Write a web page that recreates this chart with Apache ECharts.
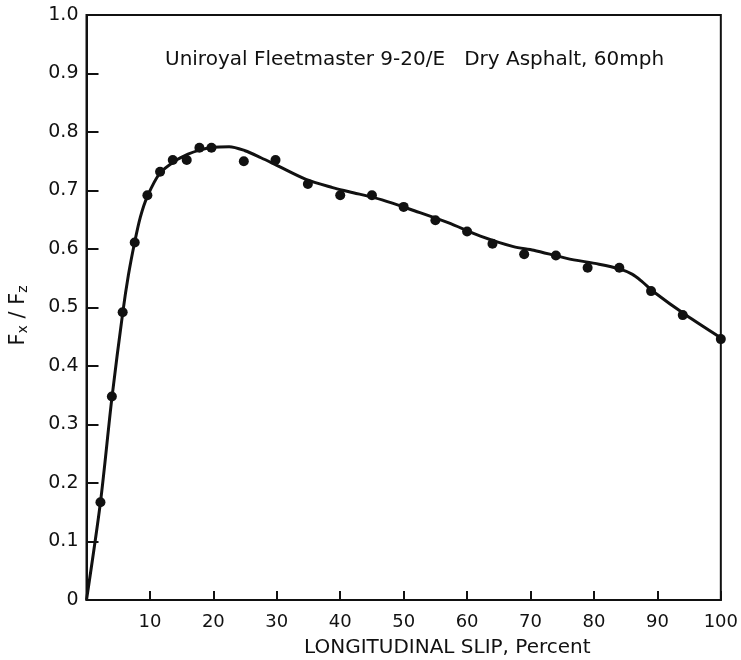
<!DOCTYPE html>
<html><head><meta charset="utf-8">
<script src="https://cdn.jsdelivr.net/npm/echarts@6/dist/echarts.min.js"></script>
<style>html,body{margin:0;padding:0;background:#fff}#c{width:741px;height:660px}</style>
</head><body><div id="c"></div>
<script>
// measured points
const slipPts = [2.2, 4.0, 5.7, 7.6, 9.6, 11.6, 13.6, 15.8, 17.8, 19.7, 24.8, 29.8, 34.9, 40, 45, 50, 55, 60, 64, 69, 74, 79, 84, 89, 94, 100];
const ratioPts = [0.167, 0.348, 0.492, 0.611, 0.692, 0.732, 0.752, 0.752, 0.773, 0.773, 0.750, 0.752, 0.711, 0.692, 0.692, 0.672, 0.649, 0.630, 0.609, 0.591, 0.589, 0.568, 0.568, 0.528, 0.487, 0.446];
// fitted curve
const curveSlip = [0, 2.2, 4, 5.7, 6.6, 7.6, 8.5, 9.6, 11.6, 13.9, 16, 17.8, 20, 22.5, 25, 27.5, 30, 34.6, 38.8, 41.4, 46.6, 51.8, 57, 62.1, 67.3, 70.5, 75.7, 80.8, 84, 86, 87.5, 89.4, 94.5, 100];
const curveRatio = [0, 0.167, 0.345, 0.49, 0.555, 0.612, 0.655, 0.69, 0.73, 0.75, 0.762, 0.769, 0.774, 0.775, 0.768, 0.756, 0.743, 0.719, 0.705, 0.698, 0.684, 0.665, 0.645, 0.622, 0.604, 0.598, 0.584, 0.574, 0.566, 0.557, 0.545, 0.527, 0.487, 0.448];
const titleText = 'Uniroyal Fleetmaster 9-20/E   Dry Asphalt, 60mph';
const xName = 'LONGITUDINAL SLIP, Percent';

const FONT = 'DejaVu Sans';
const chart = echarts.init(document.getElementById('c'));
chart.setOption({
  animation: false,
  backgroundColor: '#fff',
  title: { text: titleText, left: 160, top: 45,
    textStyle: { fontFamily: FONT, fontSize: 20, fontWeight: 'normal', color: '#111' } },
  graphic: [{ type: 'text', left: 304, top: 638,
    style: { text: xName, fontFamily: FONT, fontSize: 20, fill: '#111' } }],
  grid: { left: 81, right: 17, top: 15, bottom: 60, show: true, borderColor: '#111', borderWidth: 2, backgroundColor: 'transparent' },
  xAxis: {
    type: 'value', min: 0, max: 100, interval: 10,
    axisLine: { lineStyle: { color: '#111', width: 2 } },
    axisTick: { inside: true, length: 9, lineStyle: { color: '#111', width: 2 } },
    axisLabel: { fontFamily: FONT, fontSize: 18, color: '#111', margin: 13,
      formatter: v => v === 0 ? '' : String(v) },
    splitLine: { show: false }
  },
  yAxis: {
    type: 'value', min: 0, max: 1, interval: 0.1,
    name: 'F{s|x} / F{s|z}', nameLocation: 'middle', nameGap: 56, nameRotate: 90,
    nameTextStyle: { fontFamily: FONT, fontSize: 21, color: '#111', padding: [0, 16, 0, 0],
      rich: { s: { fontFamily: FONT, fontSize: 14, color: '#111', verticalAlign: 'bottom', padding: [10, 0, 0, 0] } } },
    axisLine: { lineStyle: { color: '#111', width: 2 } },
    axisTick: { inside: true, length: 12, lineStyle: { color: '#111', width: 2 } },
    axisLabel: { fontFamily: FONT, fontSize: 19, color: '#111', margin: 8,
      formatter: v => v === 0 ? '0' : v.toFixed(1) },
    splitLine: { show: false }
  },
  series: [
    { type: 'line', data: curveSlip.map((x, i) => [x, curveRatio[i]]), smooth: 0.3,
      showSymbol: false, lineStyle: { color: '#111', width: 3 }, z: 2 },
    { type: 'scatter', data: slipPts.map((x, i) => [x, ratioPts[i]]),
      symbol: 'circle', symbolSize: 10, itemStyle: { color: '#111', opacity: 1 }, z: 3 }
  ]
});
</script></body></html>
